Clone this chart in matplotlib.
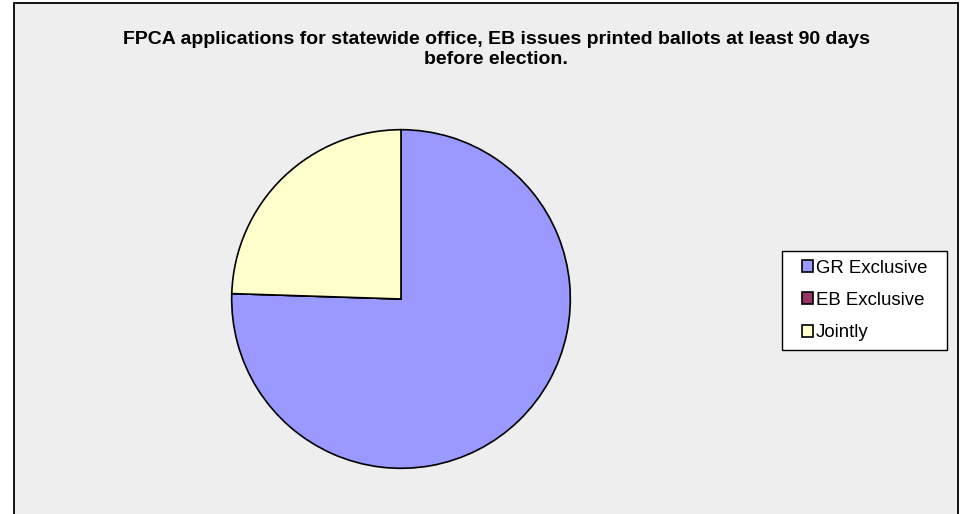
import matplotlib
matplotlib.use("Agg")
import matplotlib.pyplot as plt
from matplotlib.patches import Rectangle

# data
labels = ["GR Exclusive", "EB Exclusive", "Jointly"]
values = [37, 0, 12]
colors = ["#9999FF", "#993366", "#FFFFCC"]
title = ("FPCA applications for statewide office, EB issues printed ballots at least 90 days\n"
         "before election.")

plt.rcParams["font.family"] = ["Liberation Sans", "DejaVu Sans"]

W, H = 960, 514
fig = plt.figure(figsize=(W / 100, H / 100), dpi=100)
fig.patch.set_facecolor("white")

# chart area: grey with a black frame (bottom edge runs off the image)
fig.add_artist(Rectangle((13.5 / W, -0.05), (958 - 13.5) / W, 1.05 - 2.5 / H,
                         transform=fig.transFigure, facecolor="#EEEEEE",
                         edgecolor="black", lw=1.3, zorder=0))

cx, cy, r = 401, 299, 171
ax = fig.add_axes([(cx - r) / W, (H - cy - r) / H, 2 * r / W, 2 * r / H])
wedges, _ = ax.pie(values, colors=colors, startangle=90, counterclock=False,
                   wedgeprops=dict(edgecolor="black", linewidth=1.2))
ax.set_xlim(-1.01, 1.01)
ax.set_ylim(-1.01, 1.01)
ax.set_aspect("equal")
ax.patch.set_visible(False)

fig.text(0.517, 1 - 49.5 / H, title, ha="center", va="center", fontsize=14,
         fontweight="bold", linespacing=1.3)

# legend box drawn separately so its padding can be wider than tall
lx0, ly0, lx1, ly1 = 782, 251, 947, 350
fig.add_artist(Rectangle((lx0 / W, 1 - ly1 / H), (lx1 - lx0) / W, (ly1 - ly0) / H,
                         transform=fig.transFigure, facecolor="white",
                         edgecolor="black", lw=1.0, zorder=1))
leg = fig.legend(wedges, labels, loc="center",
                 bbox_to_anchor=((lx0 + lx1) / 2 / W, 1 - (ly0 + ly1) / 2 / H),
                 fontsize=13.4, frameon=False,
                 handlelength=0.62, handleheight=0.62, handletextpad=0.12,
                 labelspacing=0.82, borderpad=0, borderaxespad=0)
leg.set_zorder(2)
for h in leg.legend_handles:
    h.set_edgecolor("black")
    h.set_linewidth(1.2)

fig.savefig("out.png", dpi=100)
